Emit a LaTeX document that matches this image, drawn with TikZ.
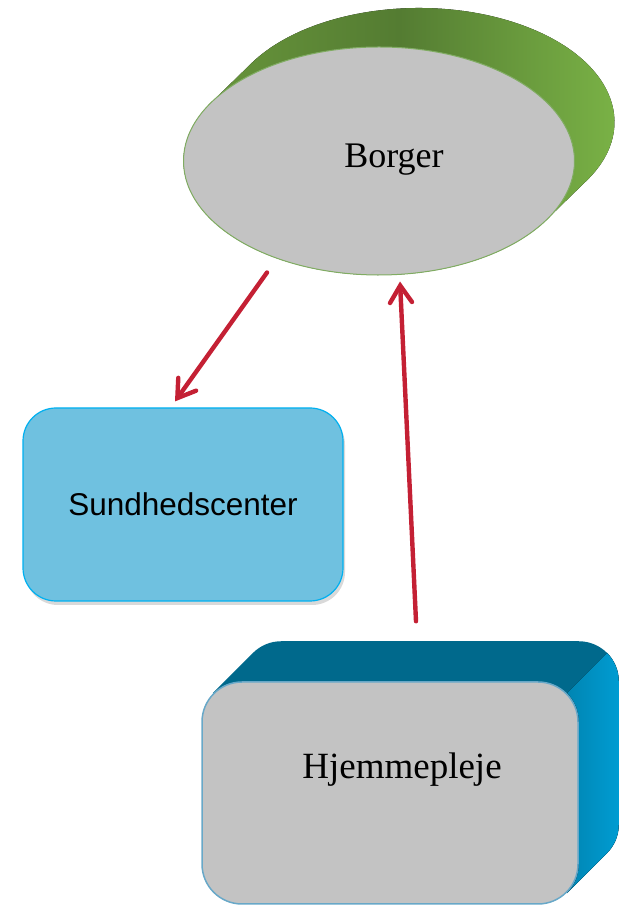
\documentclass[tikz,border=0pt]{standalone}
\usepackage{fontspec}
\setmainfont{Liberation Serif}
\setsansfont{Liberation Sans}
\usetikzlibrary{arrows.meta,calc,shadows,shapes.geometric,backgrounds}
\definecolor{face}{RGB}{195,195,195}
\definecolor{gdark}{RGB}{84,124,50}
\definecolor{gmid}{RGB}{106,152,60}
\definecolor{glight}{RGB}{126,184,72}
\definecolor{gline}{RGB}{128,172,98}
\definecolor{sundfill}{RGB}{111,193,224}
\definecolor{sundline}{RGB}{0,176,240}
\definecolor{hjemdark}{RGB}{0,105,140}
\definecolor{hjemlight}{RGB}{0,156,210}
\definecolor{hjemline}{RGB}{104,168,200}
\definecolor{arrowred}{RGB}{196,32,52}
\pgfdeclarehorizontalshading{borgside}{100bp}{color(0bp)=(gmid); color(28bp)=(gmid); color(50bp)=(gdark); color(75bp)=(glight); color(100bp)=(glight)}

\begin{document}
\begin{tikzpicture}[x=1pt,y=1pt,
    flow/.style={-{Straight Barb[length=17pt,width=22pt,line cap=round]},line width=4.4pt,draw=arrowred,line cap=round},
    borg/.style={ellipse,minimum width=391pt,minimum height=228pt,inner sep=0pt,fill=face,draw=gline,line width=1pt},
    sund/.style={rectangle,rounded corners=33pt,minimum width=320pt,minimum height=193pt,fill=sundfill,draw=sundline,line width=1.2pt,
        drop shadow={opacity=0.3,shadow xshift=2pt,shadow yshift=-4pt},font=\sffamily\fontsize{31.5}{36}\selectfont},
    hjem/.style={rectangle,rounded corners=40pt,minimum width=376pt,minimum height=222pt,fill=face,draw=hjemline,line width=1.5pt}]
    \useasboundingbox (0,0) rectangle (619,905);

    \node[borg,label={[xshift=15pt,yshift=1pt,font=\fontsize{36}{40}\selectfont]center:Borger}] (borger) at (379,744) {};
    \node[sund] (sundh) at (183,400.5) {Sundhedscenter};
    \node[hjem,label={[xshift=12pt,yshift=23pt,font=\fontsize{37}{40}\selectfont]center:Hjemmepleje}] (hjemme) at (390,112) {};

    \begin{scope}[on background layer]
        \fill[shading=borgside] ($(borger.center)+(-30.3:195.5pt and 114pt)$) -- ++(40,39)
            arc[start angle=-30.3,end angle=149.7,x radius=195.5pt,y radius=114pt] -- ++(-40,-39)
            arc[start angle=149.7,end angle=329.7,x radius=195.5pt,y radius=114pt] -- cycle;
        \fill[hjemdark] ($(hjemme.north west)+(11.7,-11.7)$) -- ++(40,40)
            arc[start angle=135,end angle=90,radius=40pt] -- ($(hjemme.north east)+(0,40)$)
            arc[start angle=90,end angle=0,radius=40pt] -- ($(hjemme.south east)+(40,80)$)
            arc[start angle=0,end angle=-45,radius=40pt] -- ++(-40,-40) -- cycle;
        \fill[left color=hjemdark!45!hjemlight,right color=hjemlight] ($(hjemme.north east)+(-11.7,-11.7)$) -- ++(40,40)
            arc[start angle=45,end angle=0,radius=40pt] -- ($(hjemme.south east)+(40,80)$)
            arc[start angle=0,end angle=-45,radius=40pt] -- ++(-40,-40)
            arc[start angle=-45,end angle=0,radius=40pt] -- ($(hjemme.north east)+(0,-40)$)
            arc[start angle=0,end angle=45,radius=40pt] -- cycle;
    \end{scope}

    \draw[flow] ([xshift=-112pt,yshift=3pt]borger.south) -- ([xshift=-8pt,yshift=6pt]sundh.north);
    \draw[flow] ([xshift=26pt,yshift=60pt]hjemme.north) -- ([xshift=21pt,yshift=-6pt]borger.south);
\end{tikzpicture}
\end{document}
